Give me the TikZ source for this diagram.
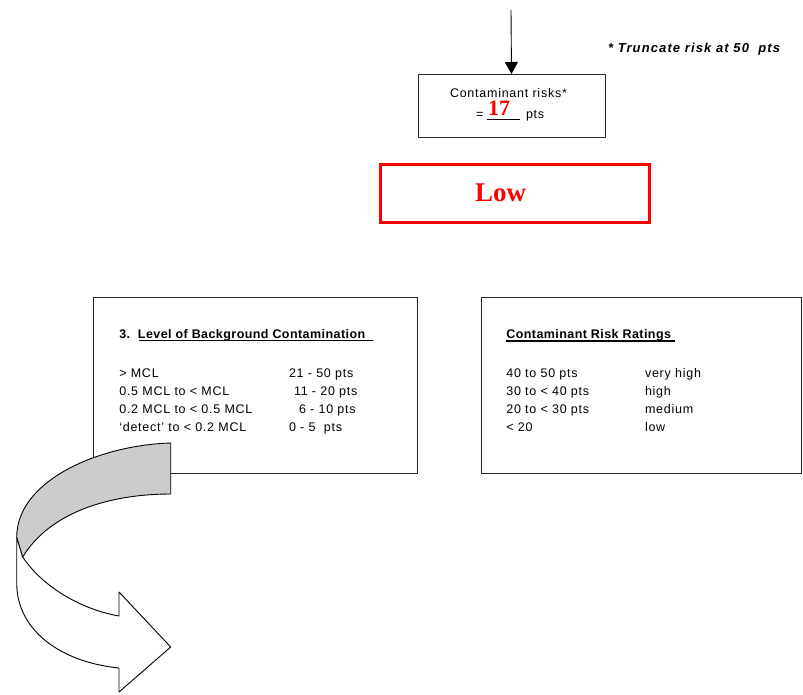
\documentclass[tikz,border=0pt]{standalone}
\usepackage{fontspec}
\setmainfont{Liberation Sans}[LetterSpace=6]
\newfontfamily\headfont{Liberation Sans}[LetterSpace=3.5]
\newfontfamily\notefont{Liberation Sans}[LetterSpace=8.5]
\newfontfamily\scorefont{Liberation Serif}
\usetikzlibrary{arrows.meta}

\begin{document}
\begin{tikzpicture}[x=1pt, y=-1pt,
    every node/.style={inner sep=0pt, outer sep=0pt},
    frame/.style={draw=black!85, line width=0.8pt},
    body/.style={font=\fontsize{12.5}{15}\selectfont, anchor=base west},
    heading/.style={font=\headfont\bfseries\fontsize{12.5}{15}\selectfont, anchor=base west},
    redtext/.style={text=red, anchor=base west}]
  \useasboundingbox (0,0) rectangle (803,694);

  % score box with the arrow coming in from above
  \node[frame, minimum width=187pt, minimum height=63pt] (riskbox) at (511.5,105.5) {};
  \coordinate (feed) at (511,10);
  \draw[-{Triangle[width=13pt,length=12pt]}, line width=0.9pt] (feed) -- (riskbox.north);
  \node[body] (risklabel) at (450,97.3) {Contaminant risks*};
  \node[body] (equals) at (476,118.5) {=};
  \node[body] (ptsunit) at (526,118.5) {pts};
  \draw[line width=0.8pt] (487,119.8) -- (520,119.8);   % blank to fill in
  \node[redtext, font=\scorefont\bfseries\fontsize{22}{25}\selectfont] (score) at (488,115.7) {17};

  % footnote
  \node[anchor=base west, font=\notefont\bfseries\itshape\fontsize{13}{15}\selectfont] (note) at (608,52.7) {*\ Truncate risk at 50\ \ pts};

  % rating
  \node[draw=red, line width=3pt, minimum width=268.5pt, minimum height=58pt] (ratingbox) at (514.75,193.5) {};
  \node[redtext, font=\scorefont\bfseries\fontsize{27}{30}\selectfont] (rating) at (475,201) {Low};

  % left table: background contamination
  \node[frame, minimum width=323.7pt, minimum height=175.6pt] (levelbox) at (255.2,385.5) {};
  \node[heading] (leveltitle) at (119.3,338) {3.\ \ Level of Background Contamination};
  \draw[line width=1.8pt] (139,340.5) -- (372.5,340.5);
  \foreach \lhs/\rhs/\xr/\yb in {{> MCL}/{21 - 50 pts}/289/377,
      {0.5 MCL to < MCL}/{11 - 20 pts}/294/395,
      {0.2 MCL to < 0.5 MCL}/{6 - 10 pts}/299/413,
      {`detect' to < 0.2 MCL}/{0 - 5\ \ pts}/289/431}{
    \node[body] at (119.3,\yb) {\lhs};
    \node[body] at (\xr,\yb) {\rhs};
  }

  % right table: risk ratings
  \node[frame, minimum width=319.7pt, minimum height=175.6pt] (ratebox) at (641.15,385.5) {};
  \node[heading] (ratetitle) at (506.3,338) {Contaminant Risk Ratings};
  \draw[line width=1.8pt] (506.3,341) -- (674.7,341);
  \foreach \lhs/\rhs/\yb in {{40 to 50 pts}/{very high}/377,
      {30 to < 40 pts}/{high}/395,
      {20 to < 30 pts}/{medium}/413,
      {< 20}/{low}/431}{
    \node[body] at (506.3,\yb) {\lhs};
    \node[body] at (645,\yb) {\rhs};
  }

  % curved arrow turning down and back to the right
  \draw[fill=white, line width=0.9pt, line join=round]
    (22.7,557) .. controls (45,590) and (85,610) .. (119,616)
    -- (119,592) -- (170.7,647) -- (119,692) -- (119,668)
    .. controls (60,662) and (16.7,630) .. (16.7,583) -- (16.7,537) -- cycle;
  \draw[fill=gray!40, line width=0.9pt, line join=round]
    (170.7,443) .. controls (100,445) and (17,480) .. (16.7,537)
    -- (22.7,557) .. controls (50,512) and (110,494) .. (170.7,494) -- cycle;
\end{tikzpicture}
\end{document}
